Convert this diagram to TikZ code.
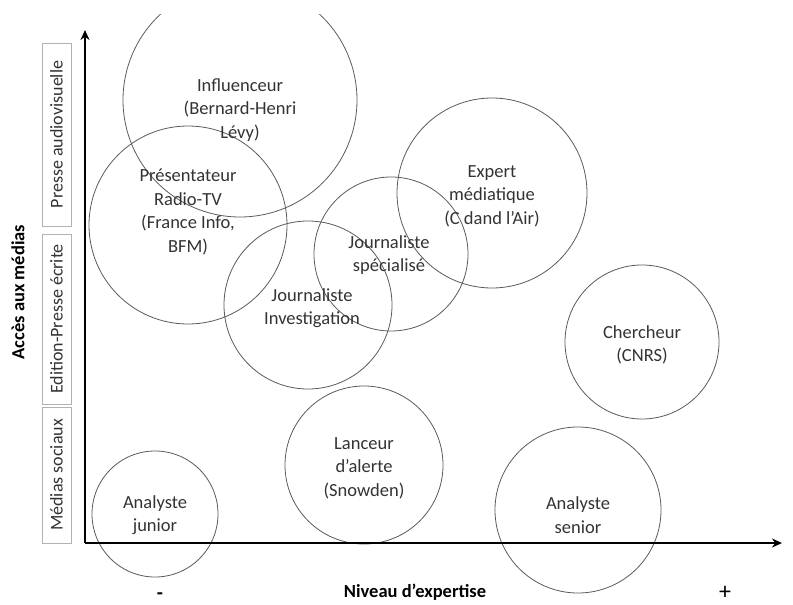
\documentclass[tikz,border=0pt]{standalone}
\usepackage{fontspec}
\setmainfont{Carlito}
\usetikzlibrary{arrows.meta}
\definecolor{ringgray}{HTML}{5A5A5A}
\definecolor{textgray}{HTML}{333333}
\begin{document}
\begin{tikzpicture}[x=1pt, y=-1pt,
    role/.style={circle, draw=ringgray, line width=0.8pt, inner sep=0pt},
    rolelabel/.style={align=center, text=textgray, font=\fontsize{18.5}{23.5}\selectfont},
    mediabox/.style={draw=gray!60, rotate=90, minimum height=29pt, inner sep=0pt, text=textgray, font=\fontsize{18}{20}\selectfont},
    axis/.style={line width=2.2pt, -{Stealth[length=10pt, width=9pt]}}
  ]
  \useasboundingbox (0,0) rectangle (793,605);

  % rings, the top one is cut by the frame
  \begin{scope}
    \clip (0,14) rectangle (793,605);
    \node[role, minimum size=234pt] (influ) at (240,100) {};
    \node[role, minimum size=198pt] (presen) at (188,225) {};
    \node[role, minimum size=190pt] (expert) at (492,193) {};
    \node[role, minimum size=154pt] (jspec) at (391,254) {};
    \node[role, minimum size=168pt] (jinvest) at (308,305) {};
    \node[role, minimum size=154pt] (cherch) at (642,342) {};
    \node[role, minimum size=158pt] (lanceur) at (364,465) {};
    \node[role, minimum size=126pt] (ajunior) at (155,514) {};
    \node[role, minimum size=166pt] (asenior) at (578,510) {};
  \end{scope}

  % texts of the rings
  \node[rolelabel] (influtxt) at (240,110) {Influenceur\\(Bernard-Henri\\Lévy)};
  \node[rolelabel] (presentxt) at (188,212) {Présentateur\\Radio-TV\\(France Info,\\BFM)};
  \node[rolelabel] (experttxt) at (492,196) {Expert\\médiatique\\(C dand l’Air)};
  \node[rolelabel] (jspectxt) at (389,255) {Journaliste\\spécialisé};
  \node[rolelabel] (jinvesttxt) at (312,308) {Journaliste\\Investigation};
  \node[rolelabel] (cherchtxt) at (642,345) {Chercheur\\(CNRS)};
  \node[rolelabel] (lanceurtxt) at (364,468) {Lanceur\\d’alerte\\(Snowden)};
  \node[rolelabel] (ajuniortxt) at (155,515) {Analyste\\junior};
  \node[rolelabel] (aseniortxt) at (578,515) {Analyste\\senior};

  % axes
  \coordinate (origin) at (85,543);
  \coordinate (ytip) at (85,30);
  \coordinate (xtip) at (782,543);
  \draw[axis] (origin) -- (ytip);
  \draw[axis] (origin) -- (xtip);

  % media boxes along the vertical axis
  \node[mediabox, minimum width=183pt] (audiovis) at (56.5,134.5) {Presse audiovisuelle};
  \node[mediabox, minimum width=170pt] (ecrite) at (56.5,319) {Edition-Presse écrite};
  \node[mediabox, minimum width=136pt] (sociaux) at (56.5,475) {Médias sociaux};

  % axis names
  \node[rotate=90, font=\fontsize{18.5}{20}\selectfont\bfseries] (yname) at (18,292) {Accès aux médias};
  \node[font=\fontsize{18.5}{20}\selectfont\bfseries] (xname) at (415,592) {Niveau d’expertise};
  \node[inner sep=0pt, anchor=base, font=\fontsize{20}{22}\selectfont\bfseries] (minus) at (160,599) {-};
  \node[inner sep=0pt, font=\fontsize{24}{26}\selectfont] (plus) at (725,593) {+};
\end{tikzpicture}
\end{document}
